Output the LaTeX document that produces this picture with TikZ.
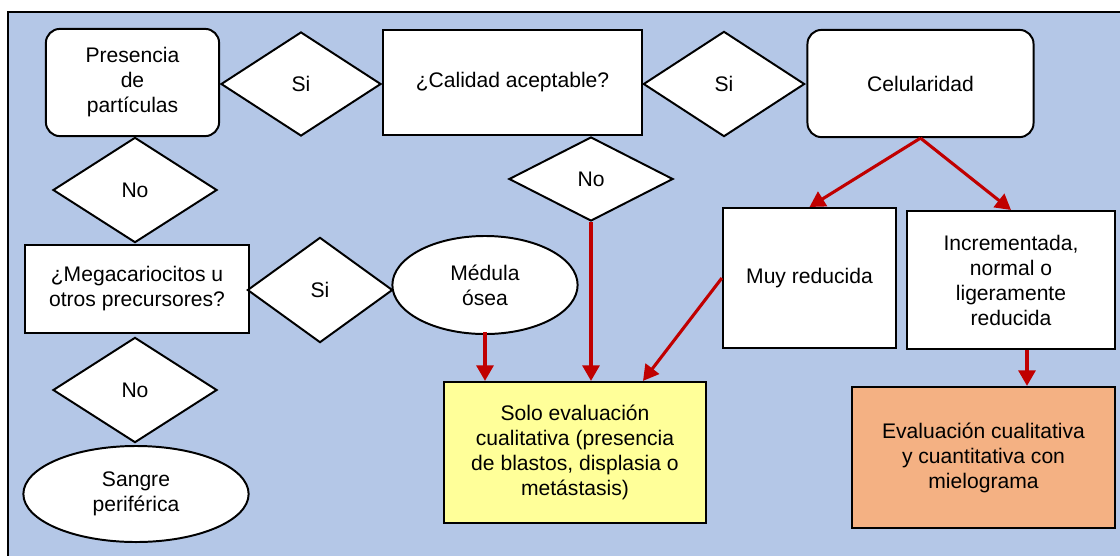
\documentclass[tikz,border=0pt]{standalone}
\usepackage{fontspec}
\setmainfont{Liberation Sans}
\usetikzlibrary{arrows.meta, shapes.geometric, positioning}
\definecolor{fondo}{RGB}{180, 199, 231}
\definecolor{rojo}{RGB}{192, 0, 0}
\definecolor{amarillo}{RGB}{255, 255, 153}
\definecolor{salmon}{RGB}{244, 177, 131}

\begin{document}
\begin{tikzpicture}[x=0.025cm, y=-0.025cm,
    base/.style={
        draw=black,
        line width=1.4pt,
        fill=white,
        align=center,
        inner sep=2pt,
        font=\fontsize{15}{17.8}\selectfont
    },
    caja/.style={base, rectangle},
    redonda/.style={base, rectangle, rounded corners=10pt},
    rombo/.style={base, diamond, inner sep=0pt},
    elipse/.style={base, ellipse, inner sep=0pt},
    flecha/.style={draw=rojo, line width=2.2pt, -{Triangle[length=11pt, width=12pt]}}
]
    \useasboundingbox (0,0) rectangle (1120,555);
    \clip (0,0) rectangle (1120,555);
    \draw[fill=fondo, line width=1.5pt] (8,12) rectangle (1140,575);

    % fila superior
    \node[redonda, minimum width=4.33cm, minimum height=2.68cm] (pres) at (132.5,82.5) {Presencia\\de\\partículas};
    \node[rombo, minimum width=4.0cm, minimum height=2.6cm] (si1) at (301,84) {Si};
    \node[caja, minimum width=6.48cm, minimum height=2.63cm] (cal) at (512.5,82.5) {¿Calidad aceptable?};
    \node[rombo, minimum width=4.03cm, minimum height=2.63cm] (si2) at (724,84) {Si};
    \node[redonda, minimum width=5.65cm, minimum height=2.68cm] (cel) at (920.5,83.5) {Celularidad};

    % rama izquierda
    \node[rombo, minimum width=4.1cm, minimum height=2.63cm] (no1) at (135,190) {No};
    \node[caja, minimum width=5.6cm, minimum height=2.2cm] (mega) at (137,289) {¿Megacariocitos u\\otros precursores?};
    \node[rombo, minimum width=3.63cm, minimum height=2.63cm] (si3) at (320,290) {Si};
    \node[elipse, minimum width=4.63cm, minimum height=2.45cm] (medula) at (485,285) {Médula\\ósea};
    \node[rombo, minimum width=4.1cm, minimum height=2.63cm] (no3) at (135,390) {No};
    \node[elipse, minimum width=5.63cm, minimum height=2.4cm] (sangre) at (136,494) {Sangre\\periférica};

    % rama central y derecha
    \node[rombo, minimum width=4.1cm, minimum height=2.1cm] (no2) at (591,179) {No};
    \node[caja, fill=amarillo, minimum width=6.55cm, minimum height=3.53cm] (solo) at (575,452.5) {Solo evaluación\\cualitativa (presencia\\de blastos, displasia o\\metástasis)};
    \node[caja, minimum width=4.33cm, minimum height=3.5cm] (muy) at (809.5,278) {Muy reducida};
    \node[caja, minimum width=5.2cm, minimum height=3.45cm] (incr) at (1011,280) {Incrementada,\\normal o\\ligeramente\\reducida};
    \node[caja, fill=salmon, minimum width=6.58cm, minimum height=3.53cm] (eval) at (983.5,457.5) {Evaluación cualitativa\\y cuantitativa con\\mielograma};

    % flechas
    \draw[flecha] ([yshift=0.08cm]medula.south) -- (medula.south |- solo.north);
    \draw[flecha] (no2.south) -- (no2.south |- solo.north);
    \draw[flecha] (muy.west) -- ([xshift=1.7cm]solo.north);
    \draw[flecha] (cel.south) -- (muy.north);
    \draw[flecha] (cel.south) -- (incr.north);
    \draw[flecha] ([xshift=0.4cm]incr.south) -- ([xshift=0.4cm]incr.south |- eval.north);
\end{tikzpicture}
\end{document}
